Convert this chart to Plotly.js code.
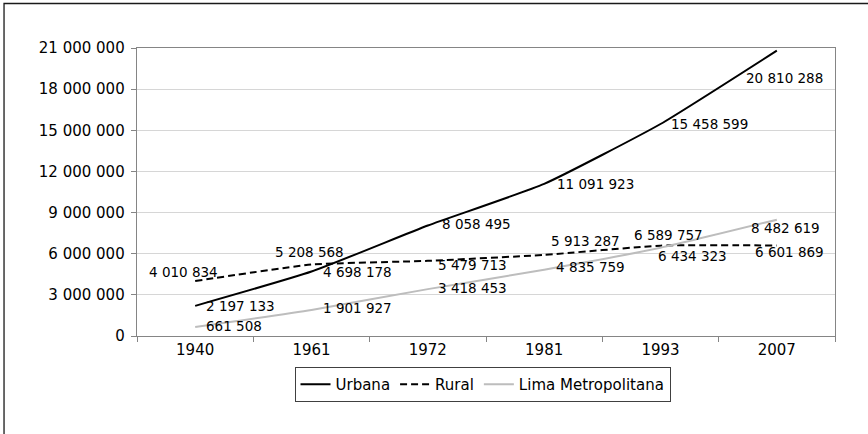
<!DOCTYPE html>
<html>
<head>
<meta charset="utf-8">
<script src="https://cdn.plot.ly/plotly-3.0.1.min.js"></script>
<style>
  html, body { margin: 0; padding: 0; background: #fff; }
  #chart { width: 868px; height: 434px; }
</style>
</head>
<body>
<div id="chart"></div>
<script>
// ---- data ----
const years = ['1940', '1961', '1972', '1981', '1993', '2007'];
const urbana = [2197133, 4698178, 8058495, 11091923, 15458599, 20810288];
const rural = [4010834, 5208568, 5479713, 5913287, 6589757, 6601869];
const lima = [661508, 1901927, 3418453, 4835759, 6434323, 8482619];
const seriesNames = ['Urbana', 'Rural', 'Lima Metropolitana'];
const yTicks = [0, 3000000, 6000000, 9000000, 12000000, 15000000, 18000000, 21000000];

// ---- label placement (style: pixel offsets of data labels from points) ----
const labelShift = {
  urbana: [[45, 0], [46, 0], [49, -1], [51, 0], [49, 0], [8, 27]],
  rural:  [[-12, -9], [-2, -13], [45, 4], [41, -14], [8, -11], [13, 7]],
  lima:   [[39, -1], [46, -2], [45, -1], [46, -3], [32, 8], [9, 8]]
};

function fmt(v) {
  return String(v).replace(/\B(?=(\d{3})+(?!\d))/g, ' ');
}

const FONT = 'DejaVu Sans, Verdana, sans-serif';

const traces = [
  { x: years, y: urbana, name: seriesNames[0], type: 'scatter', mode: 'lines',
    line: { color: '#000000', width: 2, shape: 'spline', smoothing: 0.45 } },
  { x: years, y: rural, name: seriesNames[1], type: 'scatter', mode: 'lines',
    line: { color: '#000000', width: 2, dash: '7px,4px', shape: 'spline', smoothing: 0.45 } },
  { x: years, y: lima, name: seriesNames[2], type: 'scatter', mode: 'lines',
    line: { color: '#bdbdbd', width: 2, shape: 'spline', smoothing: 0.45 } }
];

const annotations = [];
[['urbana', urbana], ['rural', rural], ['lima', lima]].forEach(([key, vals]) => {
  vals.forEach((v, i) => {
    annotations.push({
      x: i, y: v, xref: 'x', yref: 'y',
      text: fmt(v), showarrow: false,
      xanchor: 'center', yanchor: 'middle',
      xshift: labelShift[key][i][0], yshift: -labelShift[key][i][1],
      font: { family: FONT, size: 13.5, color: '#000' }
    });
  });
});

const layout = {
  width: 868, height: 434,
  margin: { l: 137, r: 33, t: 48, b: 98 },
  paper_bgcolor: '#ffffff', plot_bgcolor: '#ffffff',
  separators: ', ',
  font: { family: FONT, size: 15, color: '#000' },
  showlegend: true,
  legend: {
    orientation: 'h', x: 0.495, xanchor: 'center', y: -0.108, yanchor: 'top',
    bordercolor: '#404040', borderwidth: 1,
    font: { family: FONT, size: 15, color: '#000' },
    itemwidth: 30, tracegroupgap: 0
  },
  xaxis: {
    type: 'category', range: [-0.5, 5.5],
    showgrid: false, showline: true, linecolor: '#858585', linewidth: 1.3, mirror: true,
    ticks: 'outside', tickson: 'boundaries', ticklen: 5, tickcolor: '#858585', tickwidth: 1,
    tickfont: { family: FONT, size: 15, color: '#000' },
    fixedrange: true
  },
  yaxis: {
    range: [0, 21000000], tickvals: yTicks, ticktext: yTicks.map(fmt),
    showgrid: true, gridcolor: '#d6d6d6', gridwidth: 1,
    showline: true, linecolor: '#858585', linewidth: 1.3, mirror: true,
    ticks: 'outside', ticklen: 5, tickcolor: '#858585', tickwidth: 1,
    ticklabelstandoff: 3,
    tickfont: { family: FONT, size: 15, color: '#000' },
    zeroline: false, fixedrange: true
  },
  annotations: annotations,
  shapes: [{
    type: 'rect', xref: 'paper', yref: 'paper',
    x0: -0.1905, x1: 1.3, y0: -0.6, y1: 1.1545,
    line: { color: '#1a1a1a', width: 1.3 }, fillcolor: 'rgba(0,0,0,0)', layer: 'above'
  }]
};

Plotly.newPlot('chart', traces, layout, { displayModeBar: false, staticPlot: true });
</script>
</body>
</html>
